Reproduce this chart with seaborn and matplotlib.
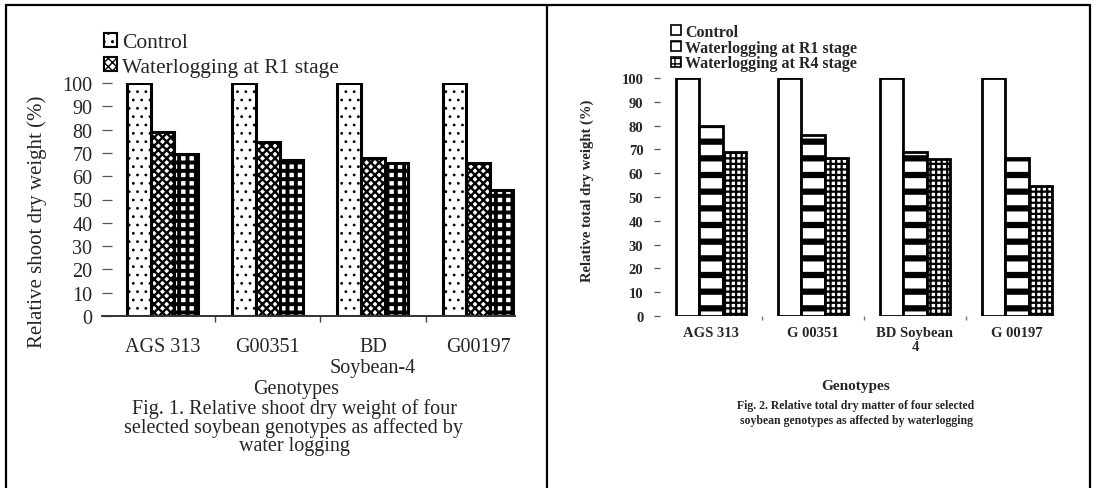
import matplotlib
matplotlib.use("Agg")
import matplotlib.pyplot as plt
import seaborn as sns
import pandas as pd
from matplotlib.patches import Patch
from matplotlib.lines import Line2D

# ---------------- data ----------------
genotypes_fig1 = ["AGS 313", "G00351", "BD\nSoybean-4", "G00197"]
genotypes_fig2 = ["AGS 313", "G 00351", "BD Soybean\n4", "G 00197"]
treatments = ["Control", "Waterlogging at R1 stage", "Waterlogging at R4 stage"]

shoot_control = [100, 100, 100, 100]
shoot_r1 = [79, 74.5, 68, 65.5]
shoot_r4 = [69.5, 67, 65.5, 54]

total_control = [100, 100, 100, 100]
total_r1 = [80, 76, 69, 66.5]
total_r4 = [69, 66.5, 66, 54.5]

yticks = list(range(0, 101, 10))

caption1 = ["Fig. 1. Relative shoot dry weight of four",
            "selected soybean genotypes as affected by",
            "water logging"]
caption2 = ["Fig. 2. Relative total dry matter of four selected",
            "soybean genotypes as affected by waterlogging"]


def long_df(genos, c, r1, r4):
    rows = []
    for vals, t in zip([c, r1, r4], treatments):
        for g, v in zip(genos, vals):
            rows.append({"Genotype": g, "Treatment": t, "Value": v})
    return pd.DataFrame(rows)


df1 = long_df(genotypes_fig1, shoot_control, shoot_r1, shoot_r4)
df2 = long_df(genotypes_fig2, total_control, total_r1, total_r4)

sns.set_theme(style="white")
plt.rcParams["font.family"] = ["Liberation Serif", "DejaVu Serif"]
plt.rcParams["hatch.color"] = "black"

W, H = 1094, 489
fig = plt.figure(figsize=(W / 100, H / 100), dpi=100)
fig.patch.set_facecolor("white")


def px_axes(x0, x1, ytop, ybot):
    return fig.add_axes([x0 / W, 1 - ybot / H, (x1 - x0) / W, (ybot - ytop) / H])


def apply_hatches(ax, hatches, hlw):
    n = 4
    for i, p in enumerate(ax.patches):
        k = i // n
        p.set_hatch(hatches[k])
        try:
            p.set_hatch_linewidth(hlw[k])
        except AttributeError:
            pass


# ---------------- Fig. 1 ----------------
ax1 = px_axes(102, 515, 84, 317)
sns.barplot(data=df1, x="Genotype", y="Value", hue="Treatment",
            order=genotypes_fig1, hue_order=treatments,
            palette=["white"] * 3, edgecolor="black", linewidth=2.2,
            width=0.674, gap=0, legend=False, ax=ax1)
h1 = ["..", "xxxx", "++"]
apply_hatches(ax1, h1, [0.8, 1.7, 2.8])
ax1.set_xlim(-0.575, 3.35)
ax1.set_ylim(0, 100)
ax1.set_yticks(yticks)
ax1.set_yticklabels([str(v) for v in yticks], fontsize=14.5)
ax1.tick_params(axis="y", direction="in", length=7, width=0.9,
                color="#555555", pad=7, left=True)
ax1.set_xticks(range(4))
ax1.set_xticklabels(genotypes_fig1, fontsize=14.5, linespacing=1.12)
ax1.tick_params(axis="x", length=0, pad=15)
ax1.set_xticks([0.5, 1.5, 2.5], minor=True)
ax1.tick_params(axis="x", which="minor", direction="out", length=4,
                width=1, color="#444444", bottom=True)
for s in ["top", "right", "left"]:
    ax1.spines[s].set_visible(False)
ax1.spines["bottom"].set_color("#333333")
ax1.spines["bottom"].set_linewidth(1.4)
ax1.set_ylabel("Relative shoot dry weight (%)", fontsize=15)
ax1.yaxis.set_label_coords(-0.133, 0.41)
ax1.set_xlabel("Genotypes", fontsize=14.5)
ax1.xaxis.set_label_coords(0.47, -0.31)
ax1.xaxis.label.set_va("center")

leg1 = [Patch(facecolor="white", edgecolor="black", hatch=h1[i], linewidth=1.5)
        for i in range(2)]
fig.legend(leg1, treatments[:2], loc="upper left",
           bbox_to_anchor=(104 / W, 1 - 34 / H), frameon=False,
           fontsize=15.5, handlelength=0.6, handleheight=0.6,
           handletextpad=0.25, labelspacing=0.22, borderpad=0,
           borderaxespad=0)

for i, line in enumerate(caption1):
    fig.text(294 / W, 1 - (409 + 19 * i) / H, line, fontsize=14.5,
             ha="center", va="center")

# ---------------- Fig. 2 ----------------
ax2 = px_axes(660, 1068, 79, 317)
sns.barplot(data=df2, x="Genotype", y="Value", hue="Treatment",
            order=genotypes_fig2, hue_order=treatments,
            palette=["white"] * 3, edgecolor="black", linewidth=2.0,
            width=0.686, gap=0, legend=False, ax=ax2)
h2 = ["", "-", "+++"]
apply_hatches(ax2, h2, [1.0, 4.5, 1.6])
ax2.set_xlim(-0.5, 3.5)
ax2.set_ylim(0, 100)
ax2.set_yticks(yticks)
ax2.set_yticklabels([str(v) for v in yticks], fontsize=10.5, fontweight="bold")
ax2.tick_params(axis="y", direction="out", length=4, width=0.9,
                color="#555555", pad=8, left=True)
ax2.set_xticks(range(4))
ax2.set_xticklabels(genotypes_fig2, fontsize=10.5, fontweight="bold",
                    linespacing=1.1)
ax2.tick_params(axis="x", length=0, pad=7)
ax2.set_xticks([0.5, 1.5, 2.5], minor=True)
ax2.tick_params(axis="x", which="minor", direction="out", length=3,
                width=1, color="#777777", bottom=True)
for s in ["top", "right", "left", "bottom"]:
    ax2.spines[s].set_visible(False)
ax2.set_ylabel("Relative total dry weight (%)", fontsize=10.5, fontweight="bold")
ax2.yaxis.set_label_coords(-0.162, 0.53)
ax2.set_xlabel("Genotypes", fontsize=11, fontweight="bold")
ax2.xaxis.set_label_coords(0.48, -0.29)
ax2.xaxis.label.set_va("center")

leg2 = [Patch(facecolor="white", edgecolor="black", hatch=h2[i], linewidth=1.2)
        for i in range(3)]
fig.legend(leg2, treatments, loc="upper left",
           bbox_to_anchor=(671 / W, 1 - 25 / H), frameon=False,
           prop={"size": 11.5, "weight": "bold"}, handlelength=0.6,
           handleheight=0.6, handletextpad=0.3, labelspacing=-0.02,
           borderpad=0, borderaxespad=0)

for i, line in enumerate(caption2):
    fig.text(856 / W, 1 - (406 + 15 * i) / H, line, fontsize=8.5,
             fontweight="bold", ha="center", va="center")

# ---------------- table borders ----------------
for (x0, y0, x1, y1) in [(6, 6, 1090, 6), (6, 6, 6, 489),
                         (547, 6, 547, 489), (1090, 6, 1090, 489)]:
    fig.add_artist(Line2D([x0 / W, x1 / W], [1 - y0 / H, 1 - y1 / H],
                          color="black", linewidth=1.6,
                          transform=fig.transFigure))

fig.savefig("out.png", dpi=100, facecolor="white")
